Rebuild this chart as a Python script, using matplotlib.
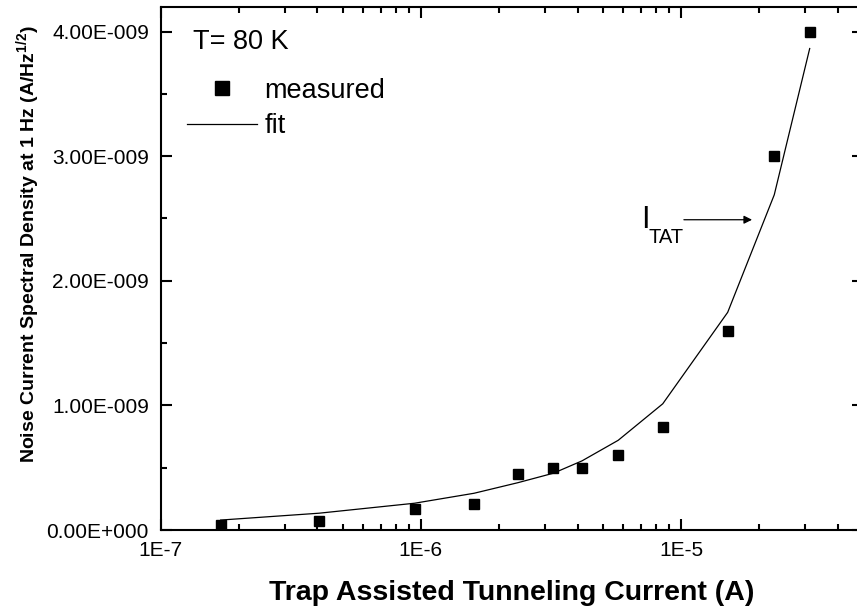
import numpy as np
import matplotlib
matplotlib.use("Agg")
import matplotlib.pyplot as plt
from matplotlib.ticker import FuncFormatter, LogLocator, FixedLocator

plt.rcParams["font.family"] = ["Liberation Sans", "DejaVu Sans"]
plt.rcParams["mathtext.fontset"] = "custom"
plt.rcParams["mathtext.rm"] = "Liberation Sans"
plt.rcParams["mathtext.bf"] = "Liberation Sans:bold"

# trap assisted tunneling current (A)
current = [1.70e-7, 4.06e-7, 9.45e-7, 1.60e-6, 2.36e-6, 3.23e-6,
           4.16e-6, 5.73e-6, 8.50e-6, 1.51e-5, 2.28e-5, 3.12e-5]
# measured noise at 1 Hz (A/Hz^1/2)
measured = [0.040e-9, 0.072e-9, 0.169e-9, 0.209e-9, 0.450e-9, 0.500e-9,
            0.500e-9, 0.600e-9, 0.830e-9, 1.600e-9, 3.000e-9, 4.000e-9]
# fitted noise at the same currents
fit = [0.080e-9, 0.135e-9, 0.215e-9, 0.295e-9, 0.380e-9, 0.456e-9,
       0.555e-9, 0.720e-9, 1.013e-9, 1.747e-9, 2.690e-9, 3.864e-9]

yticks = [0, 1e-9, 2e-9, 3e-9, 4e-9]
yminor = [0.5e-9, 1.5e-9, 2.5e-9, 3.5e-9]


def sci3(v, pos):
    if v == 0:
        return "0.00E+000"
    e = int(np.floor(np.log10(abs(v)) + 1e-9))
    m = v / 10 ** e
    sign = "-" if e < 0 else "+"
    return "%.2fE%s%03d" % (m, sign, abs(e))


def dec(v, pos):
    return "1E%d" % int(round(np.log10(v)))


fig = plt.figure(figsize=(8.57, 6.10), dpi=100)
ax = fig.add_axes([0.1875, 0.1311, 0.8195, 0.858])

ax.plot(current, measured, "s", color="black", ms=7.5, label="measured")
ax.plot(current, fit, "-", color="black", lw=0.9, label="fit")

ax.set_xscale("log")
ax.set_xlim(1e-7, 5e-5)
ax.set_ylim(0, 4.2e-9)

ax.xaxis.set_major_locator(FixedLocator([1e-7, 1e-6, 1e-5]))
ax.xaxis.set_minor_locator(LogLocator(base=10, subs=np.arange(2, 10)))
ax.xaxis.set_major_formatter(FuncFormatter(dec))
ax.xaxis.set_minor_formatter(FuncFormatter(lambda v, p: ""))
ax.yaxis.set_major_locator(FixedLocator(yticks))
ax.yaxis.set_minor_locator(FixedLocator(yminor))
ax.yaxis.set_major_formatter(FuncFormatter(sci3))

for s in ax.spines.values():
    s.set_linewidth(1.5)
ax.tick_params(which="both", direction="in", top=True, right=True, width=1.5)
ax.tick_params(which="major", length=7.7, labelsize=15)
ax.tick_params(which="minor", length=4.2)
ax.tick_params(axis="y", pad=8.5)
ax.tick_params(axis="x", pad=8)

ax.set_xlabel("Trap Assisted Tunneling Current (A)", fontsize=20.5,
              fontweight="bold", labelpad=14)
ax.set_ylabel(r"Noise Current Spectral Density at 1 Hz (A/Hz$^{\mathbf{1/2}}$)",
              fontsize=14, fontweight="bold")
ax.yaxis.set_label_coords(-0.168, 0.5465)

ax.text(0.046, 0.9316, "T= 80 K", transform=ax.transAxes, fontsize=19.5,
        va="center", ha="left")

ax.legend(loc="upper left", bbox_to_anchor=(0.022, 0.885), frameon=False,
          fontsize=19.5, handlelength=2.6, handletextpad=0.25,
          labelspacing=0.36, markerscale=1.25, borderaxespad=0)

# I_TAT marker with arrow pointing to the fit curve
ax.annotate("", xy=(1.92e-5, 2.49e-9), xytext=(1.0e-5, 2.49e-9),
            arrowprops=dict(arrowstyle="-|>", color="black", lw=0.9,
                            mutation_scale=12))
ax.text(7.6e-6, 2.49e-9, "I", fontsize=22, ha="right", va="center")
ax.text(7.5e-6, 2.35e-9, "TAT", fontsize=14.5, ha="left", va="center")

fig.savefig("out.png", dpi=100)
